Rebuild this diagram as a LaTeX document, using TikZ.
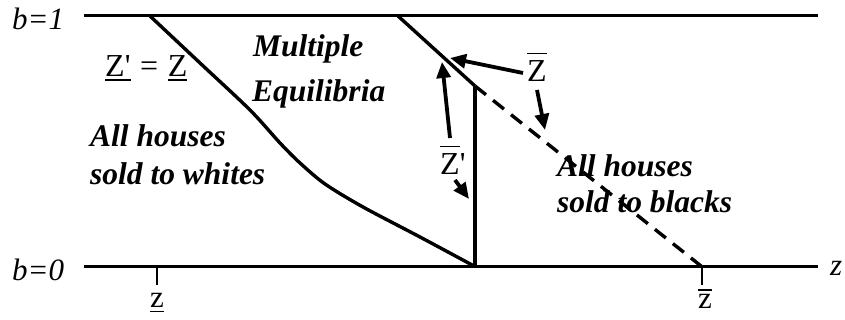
\documentclass[tikz,border=0pt]{standalone}
\usepackage{fontspec}
\setmainfont{Liberation Serif}
\usetikzlibrary{arrows.meta}
\newcommand{\obar}[2][7pt]{\leavevmode\vbox{\hrule height 1.4pt\kern#1\hbox{#2}}}
\newcommand{\ubar}[2][2.5pt]{\leavevmode\vtop{\hbox{#2}\kern#1\hrule height 1.4pt}}
\tikzset{
  axisline/.style={line width=3pt},
  bound/.style={line width=3.4pt, line join=round},
  wall/.style={line width=4.6pt},
  dashbound/.style={line width=3.4pt, dash pattern=on 14pt off 9pt},
  tickline/.style={line width=1.4pt},
  pointer/.style={line width=3.8pt, -{Triangle[length=16pt,width=14pt]}},
  lab/.style={inner sep=0pt, anchor=base west, font=\fontsize{31}{36}\selectfont},
  zlab/.style={inner sep=0pt, anchor=base west, font=\fontsize{32}{36}\selectfont},
  region/.style={inner sep=0pt, anchor=base west, font=\fontsize{31.5}{36}\selectfont\bfseries\itshape},
}
\begin{document}
\begin{tikzpicture}[x=1pt,y=-1pt]
\useasboundingbox (0,0) rectangle (845,320);
% axes
\coordinate (T0) at (84,16);
\coordinate (T1) at (818,16);
\coordinate (B0) at (84,266);
\coordinate (B1) at (818,266);
\draw[axisline] (T0) -- (T1);
\draw[axisline] (B0) -- (B1);
% left boundary curve
\coordinate (c0) at (150,16);
\coordinate (c1) at (474,266);
\draw[bound] plot[smooth, tension=0.5] coordinates {(c0) (200,63) (250,110) (280,143) (300,163) (325,184) (363,207) (420,237) (c1)};
% right boundary
\coordinate (r0) at (398,16);
\coordinate (k) at (475,86);
\coordinate (kb) at (475,266);
\coordinate (d) at (701,266);
\draw[bound] (r0) -- (k);
\draw[wall] (k) -- (kb);
\draw[dashbound] (k) -- (d);
% ticks
\coordinate (t1a) at (157,266);
\coordinate (t1b) at (157,285);
\coordinate (t2a) at (702,266);
\coordinate (t2b) at (702,285);
\draw[tickline] (t1a) -- (t1b);
\draw[tickline] (t2a) -- (t2b);
% labels
\node[lab] (b1) at (12,30) {\itshape b=1};
\node[lab] (b0) at (12,280) {\itshape b=0};
\node[lab] (zax) at (830,275) {\itshape z};
\node[lab] (zlo) at (150,307) {\ubar[4pt]{z}};
\node[lab] (zhi) at (698,308) {\obar[3pt]{z}};
\node[zlab] (zz) at (105,77) {\ubar{Z\textquotesingle}\hspace{0.3em}=\hspace{0.3em}\ubar{Z}};
\node[zlab] (Zbar) at (527,82) {\obar{Z}};
\node[zlab] (Zbarp) at (440,175) {\obar{Z}\textquotesingle};
% region labels
\node[region] (m1) at (253,57) {Multiple};
\node[region] (m2) at (252,102) {Equilibria};
\node[region] (w1) at (90,147) {All houses};
\node[region] (w2) at (90,185) {sold to whites};
\node[region] (k1) at (557,177) {All houses};
\node[region] (k2) at (557,213) {sold to blacks};
% arrows
\coordinate (a1s) at (523,73);
\coordinate (a1e) at (450,58);
\coordinate (a2s) at (537,90);
\coordinate (a2e) at (545,130);
\coordinate (a3s) at (450,138);
\coordinate (a3e) at (442,62);
\coordinate (a4s) at (455,180);
\coordinate (a4e) at (469,199);
\draw[pointer] (a1s) -- (a1e);
\draw[pointer] (a2s) -- (a2e);
\draw[pointer] (a3s) -- (a3e);
\draw[pointer] (a4s) -- (a4e);
\end{tikzpicture}
\end{document}
